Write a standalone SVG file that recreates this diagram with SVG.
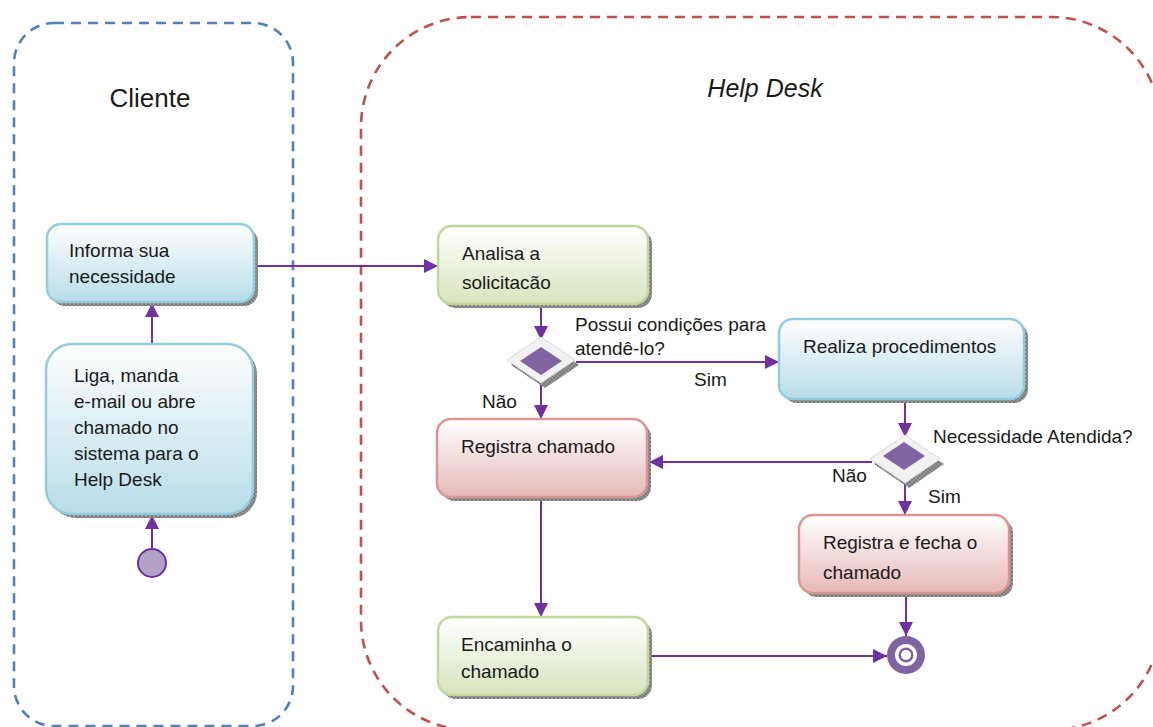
<svg xmlns="http://www.w3.org/2000/svg" width="1153" height="727" viewBox="0 0 1153 727">
  <style>
    .lane-client { fill: none; stroke: #4F81BD; stroke-width: 2.6; stroke-dasharray: 10 7; }
    .lane-desk { fill: none; stroke: #C0504D; stroke-width: 2.6; stroke-dasharray: 10 7; }
    .title { font-family: "Liberation Sans", Arial, sans-serif; fill: #1a1a1a; }
    .txt { font-family: "Liberation Sans", Arial, sans-serif; font-size: 19px; fill: #1a1a1a; }
    .shadow { fill: url(#hatch); }
    .box-blue { fill: url(#gBlue); stroke: #93CDDD; stroke-width: 2.5; }
    .box-green { fill: url(#gGreen); stroke: #C3D69B; stroke-width: 2.5; }
    .box-pink { fill: url(#gPink); stroke: #D99694; stroke-width: 2.5; }
    .flow { fill: none; stroke: #7030A0; stroke-width: 2; marker-end: url(#arrow); }
    .dia-out { fill: #F2F2F2; stroke: #D9D9D9; stroke-width: 1; }
    .dia-in { fill: #8064A2; }
  </style>
  <defs>
    <linearGradient id="gBlue" x1="0" y1="0" x2="0" y2="1">
      <stop offset="0" stop-color="#FFFFFF"/>
      <stop offset="1" stop-color="#B7DDE8"/>
    </linearGradient>
    <linearGradient id="gGreen" x1="0" y1="0" x2="0" y2="1">
      <stop offset="0" stop-color="#FFFFFF"/>
      <stop offset="1" stop-color="#D7E4BD"/>
    </linearGradient>
    <linearGradient id="gPink" x1="0" y1="0" x2="0" y2="1">
      <stop offset="0" stop-color="#FFFFFF"/>
      <stop offset="1" stop-color="#E6B9B8"/>
    </linearGradient>
    <pattern id="hatch" width="4" height="4" patternUnits="userSpaceOnUse">
      <rect width="4" height="4" fill="#9A9A9A"/>
      <path d="M0,0 L4,4 M4,0 L0,4" stroke="#6E6E6E" stroke-width="0.8"/>
    </pattern>
    <marker id="arrow" viewBox="0 0 14 14" refX="14" refY="7" markerWidth="14" markerHeight="14" markerUnits="userSpaceOnUse" orient="auto">
      <path d="M0,0 L14,7 L0,14 z" fill="#7030A0"/>
    </marker>
  </defs>

  <!-- swimlanes -->
  <g id="lane-cliente">
    <rect class="lane-client" x="14" y="23" width="279" height="703" rx="40" ry="40"/>
    <text class="title" x="150" y="107" font-size="26" text-anchor="middle">Cliente</text>
  </g>
  <g id="lane-helpdesk">
    <rect class="lane-desk" x="361" y="17" width="800" height="713" rx="110" ry="110"/>
    <text class="title" x="765" y="97" font-size="25" font-style="italic" text-anchor="middle">Help Desk</text>
  </g>

  <!-- connectors -->
  <g id="connectors">
    <path class="flow" d="M152,549 L152,515"/>
    <path class="flow" d="M152,344 L152,303"/>
    <path class="flow" d="M256,266 L438,266"/>
    <path class="flow" d="M541,305 L541,340"/>
    <path class="flow" d="M576,362 L779,362"/>
    <path class="flow" d="M541,384 L541,419"/>
    <path class="flow" d="M905,400 L905,437"/>
    <path class="flow" d="M872,462 L649,462"/>
    <path class="flow" d="M905,484 L905,515"/>
    <path class="flow" d="M541,498 L541,617"/>
    <path class="flow" d="M906,594 L906,636"/>
    <path class="flow" d="M648,656 L887,656"/>
  </g>

  <!-- start -->
  <g id="start">
    <circle cx="152" cy="563" r="14" fill="#B3A2C7" stroke="#7030A0" stroke-width="2"/>
  </g>

  <g id="informa">
    <rect class="shadow" x="51" y="228" width="207" height="78" rx="14"/>
    <rect class="box-blue" x="47" y="224" width="207" height="78" rx="14"/>
    <text class="txt" x="69" y="257">Informa sua</text>
    <text class="txt" x="69" y="283">necessidade</text>
  </g>

  <g id="liga">
    <rect class="shadow" x="50" y="348" width="207" height="170" rx="26"/>
    <rect class="box-blue" x="46" y="344" width="207" height="170" rx="26"/>
    <text class="txt" x="74" y="382">Liga, manda</text>
    <text class="txt" x="74" y="408">e-mail ou abre</text>
    <text class="txt" x="74" y="434">chamado no</text>
    <text class="txt" x="74" y="460">sistema para o</text>
    <text class="txt" x="74" y="486">Help Desk</text>
  </g>

  <g id="analisa">
    <rect class="shadow" x="442" y="230" width="210" height="78" rx="14"/>
    <rect class="box-green" x="438" y="226" width="210" height="78" rx="14"/>
    <text class="txt" x="462" y="260">Analisa a</text>
    <text class="txt" x="462" y="289">solicitacão</text>
  </g>

  <g id="decisao-condicoes">
    <path class="shadow" d="M545,342 L579,365 L545,388 L511,365 z"/>
    <path class="dia-out" d="M541,337 L575,360 L541,383 L507,360 z"/>
    <path class="dia-in" d="M541,347 L562,361 L541,375 L520,361 z"/>
    <text class="txt" x="575" y="331">Possui condições para</text>
    <text class="txt" x="575" y="355">atendê-lo?</text>
    <text class="txt" x="694" y="386">Sim</text>
    <text class="txt" x="482" y="408">Não</text>
  </g>

  <g id="realiza">
    <rect class="shadow" x="783" y="323" width="245" height="80" rx="14"/>
    <rect class="box-blue" x="779" y="319" width="245" height="80" rx="14"/>
    <text class="txt" x="803" y="353">Realiza procedimentos</text>
  </g>

  <g id="decisao-atendida">
    <path class="shadow" d="M909,440 L944,464 L909,488 L874,464 z"/>
    <path class="dia-out" d="M905,435 L940,459 L905,483 L870,459 z"/>
    <path class="dia-in" d="M904,442 L925,456 L904,470 L883,456 z"/>
    <text class="txt" x="933" y="443">Necessidade Atendida?</text>
    <text class="txt" x="832" y="482">Não</text>
    <text class="txt" x="928" y="503">Sim</text>
  </g>

  <g id="registra">
    <rect class="shadow" x="441" y="423" width="210" height="78" rx="14"/>
    <rect class="box-pink" x="437" y="419" width="210" height="78" rx="14"/>
    <text class="txt" x="461" y="453">Registra chamado</text>
  </g>

  <g id="registra-fecha">
    <rect class="shadow" x="803" y="519" width="210" height="78" rx="14"/>
    <rect class="box-pink" x="799" y="515" width="210" height="78" rx="14"/>
    <text class="txt" x="823" y="549">Registra e fecha o</text>
    <text class="txt" x="823" y="579">chamado</text>
  </g>

  <g id="encaminha">
    <rect class="shadow" x="442" y="621" width="210" height="78" rx="14"/>
    <rect class="box-green" x="438" y="617" width="210" height="78" rx="14"/>
    <text class="txt" x="461" y="651">Encaminha o</text>
    <text class="txt" x="461" y="678">chamado</text>
  </g>

  <!-- end -->
  <g id="end">
    <circle cx="906" cy="655" r="19" fill="#8064A2"/>
    <circle cx="906" cy="655" r="11" fill="#FFFFFF"/>
    <circle cx="906" cy="655" r="7.5" fill="#8064A2"/>
    <circle cx="906" cy="655" r="5" fill="#FFFFFF"/>
  </g>
</svg>
